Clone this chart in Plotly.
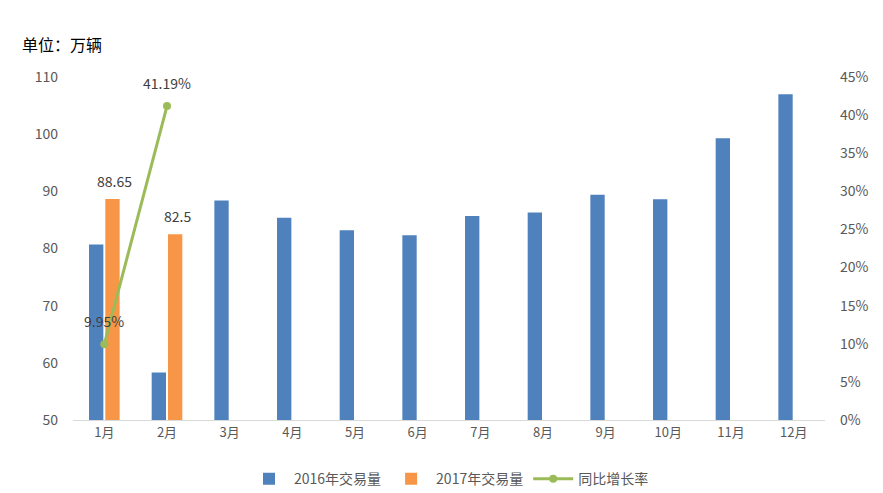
import plotly.graph_objects as go

months = ["1月", "2月", "3月", "4月", "5月", "6月", "7月", "8月", "9月", "10月", "11月", "12月"]
vol_2016 = [80.7, 58.3, 88.4, 85.4, 83.2, 82.3, 85.7, 86.3, 89.4, 88.6, 99.3, 107.0]
vol_2017 = [88.65, 82.5, None, None, None, None, None, None, None, None, None, None]
growth_months = ["1月", "2月"]
growth = [0.0995, 0.4119]
growth_labels = ["9.95%", "41.19%"]
vol_2017_labels = ["88.65", "82.5"] + [""] * 10

FONT = "Noto Sans CJK SC, Microsoft YaHei, sans-serif"
TICK = "#595959"
LABEL = "#404040"

fig = go.Figure()
fig.add_trace(go.Bar(
    x=months, y=vol_2016, name="2016年交易量",
    marker=dict(color="#4F81BD", line=dict(width=0)),
))
fig.add_trace(go.Bar(
    x=months, y=vol_2017, name="2017年交易量",
    marker=dict(color="#F79646", line=dict(width=0)),
))
fig.add_trace(go.Scatter(
    x=growth_months, y=growth, name="同比增长率", yaxis="y2",
    mode="lines+markers",
    line=dict(color="#9BBB59", width=3),
    marker=dict(color="#9BBB59", size=8),
    cliponaxis=False,
))

annotations = [dict(text="单位：万辆", xref="paper", yref="paper", x=-0.07, y=1.095,
                    xanchor="left", yanchor="middle", showarrow=False,
                    font=dict(size=16, color="#000000", family=FONT))]
for m, v, lbl in zip(months, vol_2017, vol_2017_labels):
    if v is not None and lbl:
        annotations.append(dict(text=lbl, x=m, y=v, xref="x", yref="y", showarrow=False,
                                yanchor="middle", xshift=10, yshift=18,
                                font=dict(size=14, color=LABEL, family=FONT)))
for m, g, lbl in zip(growth_months, growth, growth_labels):
    annotations.append(dict(text=lbl, x=m, y=g, xref="x", yref="y2", showarrow=False,
                            yanchor="middle", yshift=23,
                            font=dict(size=14, color=LABEL, family=FONT)))

fig.update_layout(
    width=883, height=493,
    margin=dict(l=73, r=58, t=77, b=73, autoexpand=False),
    paper_bgcolor="white", plot_bgcolor="white",
    font=dict(family=FONT, size=13, color=TICK),
    barmode="group", bargap=0.48, bargroupgap=0.12,
    showlegend=True,
    legend=dict(orientation="h", x=0.5, xanchor="center", yref="container", y=0.028,
                yanchor="middle",
                font=dict(size=14, color=TICK), traceorder="normal", itemwidth=40),
    xaxis=dict(showline=True, linecolor="#D9D9D9", linewidth=1, showgrid=False,
               range=[-0.5, len(months) - 0.5],
               ticks="", automargin=False, tickfont=dict(size=13, color=TICK)),
    yaxis=dict(range=[50, 110], dtick=10, showgrid=False, zeroline=False, automargin=False,
               showline=False, ticks="", ticklabelstandoff=14,
               tickfont=dict(size=14, color=TICK)),
    yaxis2=dict(range=[0, 0.45], dtick=0.05, tickformat=".0%", overlaying="y", side="right",
                showgrid=False, zeroline=False, showline=False, ticks="", automargin=False,
                ticklabelstandoff=14, tickfont=dict(size=14, color=TICK)),
    annotations=annotations,
)

fig.write_html(
    "out.html",
    config={"displayModeBar": False},
    post_script="document.body.style.margin='0';document.body.style.padding='0';"
                "document.body.style.overflow='hidden';",
)
